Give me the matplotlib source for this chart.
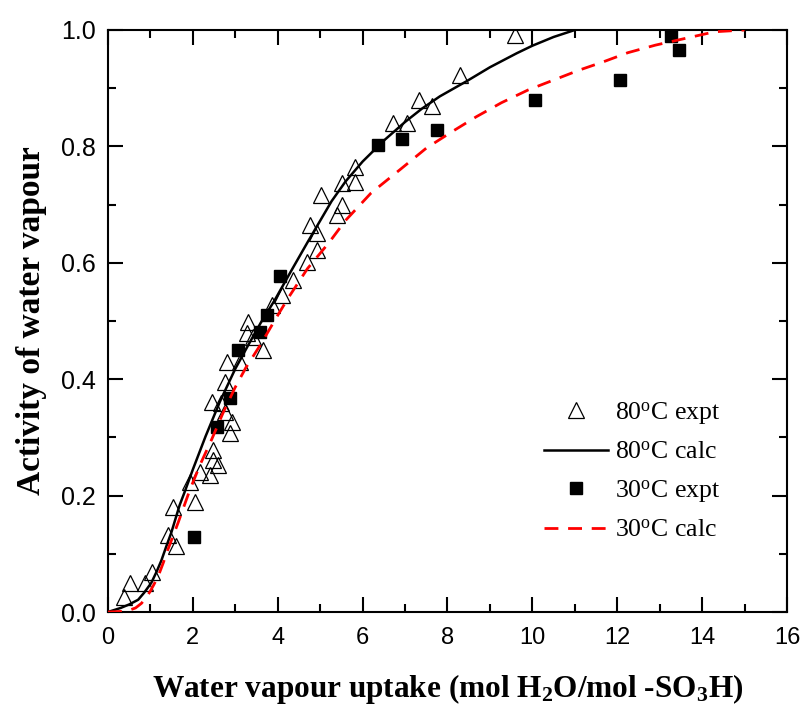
import matplotlib
matplotlib.use("Agg")
import matplotlib.pyplot as plt
from matplotlib.ticker import MultipleLocator

plt.rcParams['mathtext.fontset'] = 'custom'
plt.rcParams['mathtext.rm'] = 'Liberation Serif'
plt.rcParams['mathtext.it'] = 'Liberation Serif:italic'
plt.rcParams['mathtext.bf'] = 'Liberation Serif:bold'

# 80 C experimental
x80_expt = [0.38, 0.52, 0.87, 1.04, 1.41, 1.60, 1.53, 1.93, 2.05, 2.17, 2.40, 2.47, 2.59, 2.47,
            2.87, 2.92, 2.76, 2.45, 2.66, 2.76, 2.80, 3.11, 3.30, 3.27, 3.42, 3.65, 3.86, 4.10,
            4.36, 4.69, 4.92, 4.92, 4.76, 5.03, 5.39, 5.51, 5.51, 5.82, 5.82, 6.71, 7.04, 7.33,
            7.64, 8.29, 9.59]
y80_expt = [0.026, 0.050, 0.050, 0.069, 0.132, 0.113, 0.180, 0.223, 0.189, 0.241, 0.235, 0.261,
            0.253, 0.278, 0.308, 0.326, 0.344, 0.361, 0.359, 0.395, 0.430, 0.430, 0.498, 0.479,
            0.473, 0.450, 0.527, 0.545, 0.570, 0.601, 0.622, 0.651, 0.665, 0.716, 0.682, 0.699,
            0.737, 0.739, 0.765, 0.840, 0.840, 0.880, 0.869, 0.923, 0.991]

# 80 C calculated
x80_calc = [0.0, 0.3, 0.5, 0.71, 0.85, 1.02, 1.15, 1.26, 1.37, 1.49, 1.69, 1.8, 2.0, 2.3, 2.64,
            3.0, 3.3, 3.6, 3.93, 4.3, 4.7, 5.27, 5.6, 6.0, 6.5, 7.0, 7.4, 7.82, 8.45, 9.0, 9.63,
            10.0, 10.5, 11.0]
y80_calc = [0.0, 0.007, 0.013, 0.021, 0.033, 0.05, 0.07, 0.089, 0.112, 0.136, 0.184, 0.205,
            0.245, 0.302, 0.362, 0.418, 0.458, 0.497, 0.536, 0.584, 0.635, 0.706, 0.740, 0.774,
            0.810, 0.842, 0.865, 0.886, 0.912, 0.936, 0.960, 0.973, 0.988, 1.0]

# 30 C experimental
x30_expt = [2.03, 2.57, 2.87, 3.06, 3.58, 3.75, 4.05, 6.36, 6.93, 7.75, 10.06, 12.06, 13.26, 13.45]
y30_expt = [0.129, 0.318, 0.368, 0.450, 0.481, 0.510, 0.577, 0.802, 0.813, 0.828, 0.880, 0.914,
            0.990, 0.966]

# 30 C calculated
x30_calc = [0.0, 0.3, 0.5, 0.65, 0.79, 0.89, 0.99, 1.08, 1.18, 1.3, 1.41, 1.53, 1.65, 1.93,
            2.17, 2.44, 2.71, 2.99, 3.25, 3.6, 3.96, 4.25, 4.7, 5.2, 5.6, 6.2, 6.88, 7.5, 8.1,
            8.68, 9.27, 9.9, 10.5, 11.1, 11.66, 12.25, 12.9, 13.75, 14.3, 15.0]
y30_calc = [0.0, 0.001, 0.003, 0.007, 0.015, 0.024, 0.035, 0.047, 0.061, 0.084, 0.107, 0.13,
            0.153, 0.21, 0.253, 0.296, 0.342, 0.385, 0.42, 0.46, 0.505, 0.54, 0.59, 0.634,
            0.673, 0.72, 0.76, 0.797, 0.825, 0.851, 0.875, 0.897, 0.914, 0.931, 0.945, 0.961,
            0.974, 0.988, 0.997, 1.0]

labels = [r'80$^{\rm o}$C expt', r'80$^{\rm o}$C calc', r'30$^{\rm o}$C expt', r'30$^{\rm o}$C calc']

fig = plt.figure(figsize=(8.02, 7.11), dpi=100)
ax = fig.add_axes([108/802, 1-612/711, (787-108)/802, (612-30)/711])

ax.plot(x80_expt, y80_expt, linestyle='none', marker='^', ms=12, mfc='none', mec='black',
        mew=0.9, label=labels[0], zorder=3)
ax.plot(x80_calc, y80_calc, color='black', lw=1.8, label=labels[1], zorder=4)
ax.plot(x30_expt, y30_expt, linestyle='none', marker='s', ms=8.5, mfc='black', mec='black',
        label=labels[2], zorder=3)
ax.plot(x30_calc, y30_calc, color='red', lw=2.0, dashes=(5, 3.5), label=labels[3], zorder=4)

ax.set_xlim(0, 16)
ax.set_ylim(0, 1.0)
ax.xaxis.set_major_locator(MultipleLocator(2))
ax.xaxis.set_minor_locator(MultipleLocator(1))
ax.yaxis.set_major_locator(MultipleLocator(0.2))
ax.yaxis.set_minor_locator(MultipleLocator(0.1))
ax.yaxis.set_major_formatter(matplotlib.ticker.FormatStrFormatter('%.1f'))

for s in ax.spines.values():
    s.set_linewidth(1.5)
ax.tick_params(which='both', direction='in', top=True, right=True, width=1.5)
ax.tick_params(which='major', length=11)
ax.tick_params(which='minor', length=6)
ax.tick_params(axis='x', which='major', pad=11)
ax.tick_params(axis='y', which='major', pad=9)

for t in ax.get_xticklabels():
    t.set_fontfamily(['Liberation Sans'])
    t.set_fontsize(17)
for t in ax.get_yticklabels():
    t.set_fontfamily(['Liberation Sans'])
    t.set_fontsize(18)

ax.set_xlabel(r'Water vapour uptake (mol H$_\mathbf{2}$O/mol -SO$_\mathbf{3}$H)',
              fontfamily='Liberation Serif', fontweight='bold', fontsize=22.5, labelpad=16)
ax.set_ylabel('Activity of water vapour', fontfamily='Liberation Serif', fontweight='bold',
              fontsize=24, labelpad=10)

leg = ax.legend(loc='center left', bbox_to_anchor=((544-108)/679, (612-471)/582),
                frameon=False, numpoints=1, handlelength=2.5, handletextpad=0.25,
                labelspacing=0.55, borderpad=0, borderaxespad=0,
                prop={'family': 'Liberation Serif', 'size': 18.5})

fig.savefig('out.png', dpi=100)
